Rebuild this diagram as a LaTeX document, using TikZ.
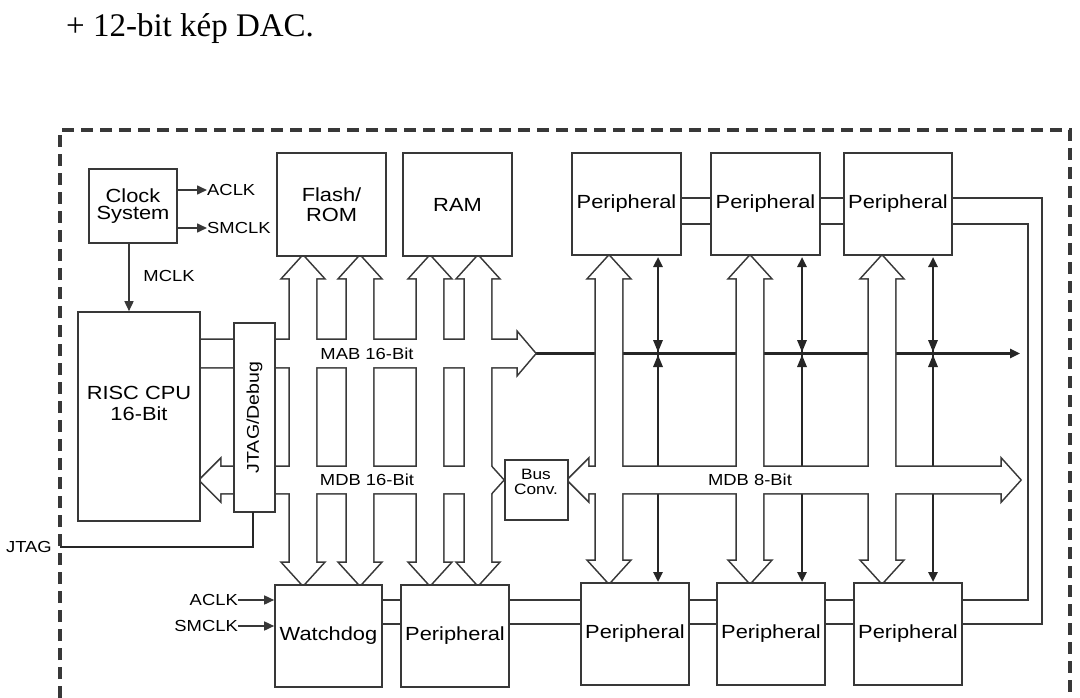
\documentclass[tikz,border=0pt]{standalone}
\usepackage{fontspec}
\setmainfont{Liberation Sans}[FakeStretch=1.15]
\newfontfamily\serifa{Liberation Serif}
\usetikzlibrary{arrows.meta}
\definecolor{ln}{gray}{0.22}
\tikzset{
  box/.style={draw=ln,line width=1.6pt,fill=white,inner sep=0pt,align=center,font=\fontsize{19}{20}\selectfont},
  small/.style={font=\fontsize{16}{16}\selectfont,inner sep=0pt},
  thin/.style={draw=ln,line width=1.6pt},
  thick/.style={draw=black!85,line width=2.4pt},
  tip/.style={-{Triangle[length=10pt,width=9pt]}},
}
\newcommand\bx[6]{\pgfmathsetmacro\bw{#4-#2}\pgfmathsetmacro\bh{#5-#3}%
  \node[box,minimum width=\bw pt,minimum height=\bh pt] (#1) at ({(#2+#4)/2},{(#3+#5)/2}) {#6};}
\newcommand\vbus[4]{\path[#1] (#2,#3)--({#2+20},{#3+22})--({#2+13},{#3+22})--({#2+13},{#4-22})--({#2+20},{#4-22})--(#2,#4)--({#2-20},{#4-22})--({#2-13},{#4-22})--({#2-13},{#3+22})--({#2-20},{#3+22})--cycle;}
\newcommand\hollow[1]{%
  \path[#1] (200,340)--(518,340)--(518,333.5)--(535,353.5)--(518,373.5)--(518,367)--(200,367)--cycle;
  \path[#1] (200,480)--(220,460)--(220,467)--(485,467)--(485,460)--(503,480)--(485,500)--(485,493)--(220,493)--(220,500)--cycle;
  \path[#1] (568,480)--(588,460)--(588,467)--(1002,467)--(1002,460)--(1020,480)--(1002,500)--(1002,493)--(588,493)--(588,500)--cycle;
  \vbus{#1}{303}{256}{585}\vbus{#1}{360}{256}{585}
  \vbus{#1}{430}{256}{585}\vbus{#1}{478}{256}{585}
  \vbus{#1}{609}{256}{583}\vbus{#1}{750}{256}{583}\vbus{#1}{882}{256}{583}}
\begin{document}
\begin{tikzpicture}[x=1pt,y=-1pt]
\useasboundingbox (0,0) rectangle (1080,698);
\node[anchor=base west,inner sep=0pt,font=\serifa\fontsize{33}{33}\selectfont] (cap) at (66,37) {+ 12-bit kép DAC.};
\draw[ln,line width=3.6pt,dash pattern=on 12pt off 7pt] (60,698)--(60,130)--(1070,130)--(1070,698);
\coordinate (lo1) at (1042,198); \coordinate (lo2) at (1042,624);
\coordinate (li1) at (1028,224); \coordinate (li2) at (1028,600);
\draw[thin] (572,198)--(lo1)--(lo2)--(382,624);
\draw[thin] (572,224)--(li1)--(li2)--(382,600);
\draw[thick,tip] (535,353.5)--(1020,353.5);
\foreach \x in {658,802,933}{
  \draw[thick,{Triangle[length=10pt,width=9pt]}-{Triangle[length=10pt,width=9pt]}] (\x,257)--(\x,582);
}
\hollow{draw=ln,line width=3.2pt}
\hollow{fill=white}
\foreach \x in {658,802,933}{
  \fill[black!85] (\x-5,340)--(\x+5,340)--(\x,352)--cycle;
  \fill[black!85] (\x-5,367)--(\x+5,367)--(\x,355)--cycle;
}
\bx{clk}{89}{169}{177}{243}{Clock\\[-3pt]System}
\bx{cpu}{78}{312}{200}{521}{}
\node[align=center,font=\fontsize{19}{21}\selectfont] (cput) at (139,403) {RISC CPU\\16-Bit};
\bx{jtg}{234}{323}{275}{512}{}
\node[rotate=90,font=\fontsize{17}{17}\selectfont] (jtgt) at (jtg.center) {JTAG/Debug};
\bx{fla}{277}{153}{386}{256}{Flash/\\ROM}
\bx{ram}{403}{153}{512}{256}{RAM}
\bx{p1}{572}{153}{681}{255}{Peripheral}
\bx{p2}{711}{153}{820}{255}{Peripheral}
\bx{p3}{844}{153}{952}{255}{Peripheral}
\bx{wd}{275}{585}{382}{687}{Watchdog}
\bx{p4}{401}{585}{509}{687}{Peripheral}
\bx{p5}{581}{583}{689}{685}{Peripheral}
\bx{p6}{717}{583}{825}{685}{Peripheral}
\bx{p7}{854}{583}{962}{685}{Peripheral}
\bx{bc}{505}{460}{568}{520}{}
\node[align=center,font=\fontsize{15}{15}\selectfont] (bct) at (536,482) {Bus\\Conv.};
\node[small,fill=white] (mab) at (367,354) {MAB 16-Bit};
\node[small,fill=white] (mdb) at (367,480) {MDB 16-Bit};
\node[small] (mdb8) at (750,480) {MDB 8-Bit};
\node[small,anchor=west] (a1) at (207,190) {ACLK};
\node[small,anchor=west] (s1) at (207,228) {SMCLK};
\draw[thin,tip] (clk.east|-a1)--(a1.west);
\draw[thin,tip] (clk.east|-s1)--(s1.west);
\draw[thin,tip] (clk.south-|129,0)--(cpu.north-|129,0);
\node[small] (mclk) at (169,276) {MCLK};
\node[small,anchor=east] (a2) at (238,600) {ACLK};
\node[small,anchor=east] (s2) at (238,626) {SMCLK};
\draw[thin,tip] (a2.east)--(a2.east-|wd.west);
\draw[thin,tip] (s2.east)--(s2.east-|wd.west);
\node[small,anchor=east] (jt) at (52,547) {JTAG};
\draw[thick] (60,547)--(253,547)--(253,512);
\end{tikzpicture}
\end{document}
